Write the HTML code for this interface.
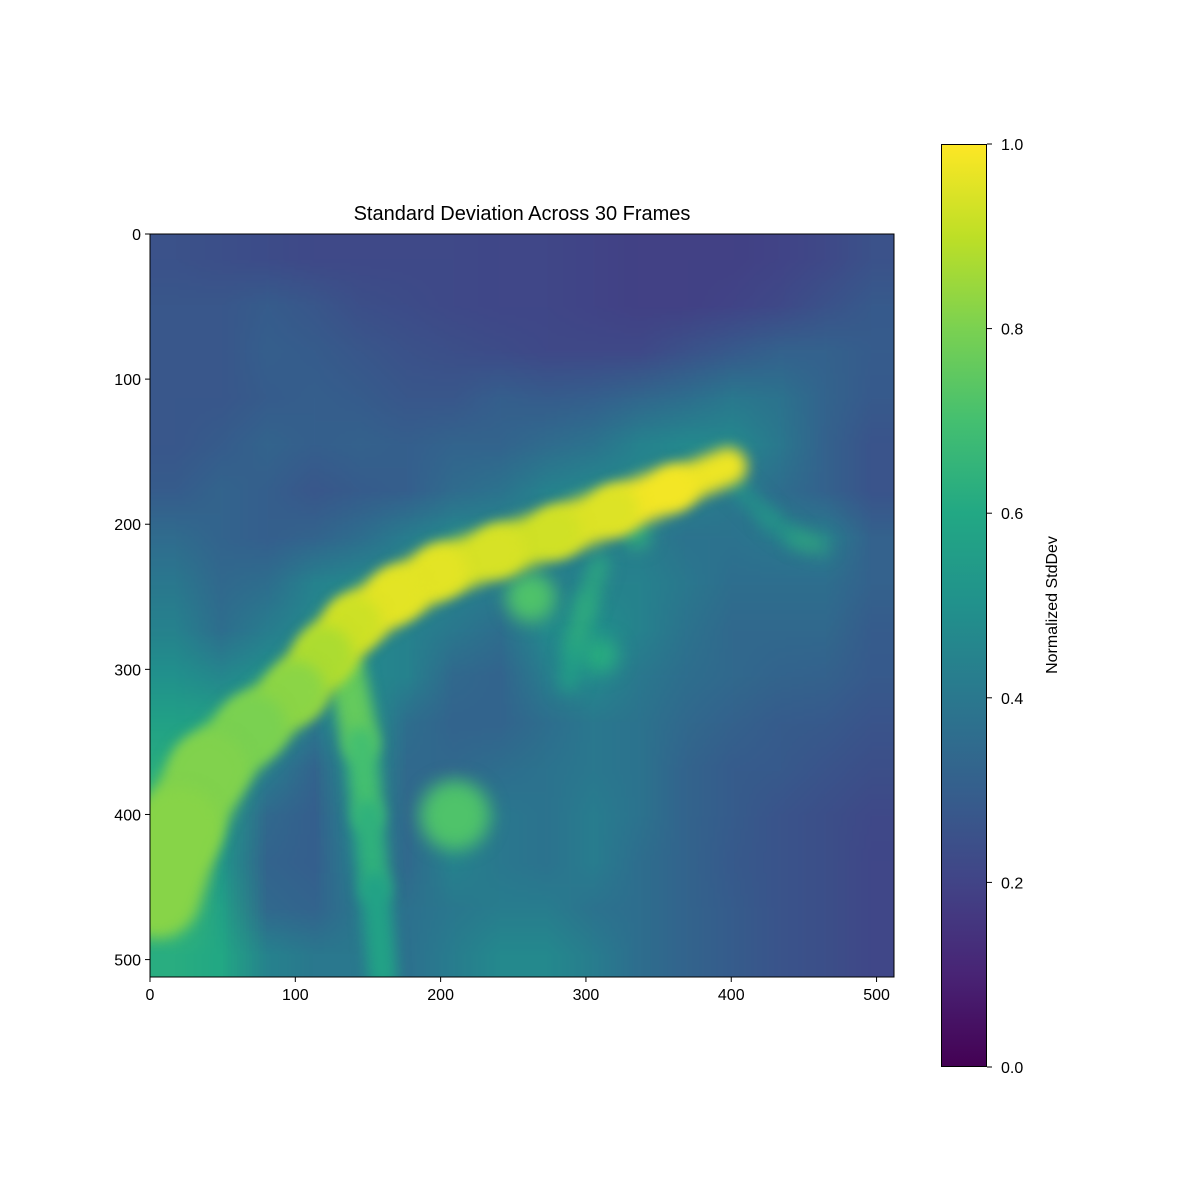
<!DOCTYPE html>
<html><head><meta charset="utf-8"><style>
body{margin:0;background:#fff;width:1200px;height:1200px;position:relative;overflow:hidden;font-family:"Liberation Sans","DejaVu Sans",sans-serif}
#heat{position:absolute;left:150px;top:234px;width:744px;height:743px}
#cbar{position:absolute;left:941px;top:144px;width:46px;height:923px;box-sizing:border-box;border:1px solid #000;
background:linear-gradient(to top,#440154 0%,#482475 10%,#414487 20%,#355f8d 30%,#2a788e 40%,#21918c 50%,#22a884 60%,#44bf70 70%,#7ad151 80%,#bddf26 90%,#fde725 100%)}
svg{position:absolute;left:0;top:0}
</style></head><body>
<canvas id="heat" width="744" height="743"></canvas>
<div id="cbar"></div>
<svg id="ax" width="1200" height="1200"></svg>
<script>
const rows = [
[.25,.24,.23,.22,.22,.22,.22,.21,.21,.20,.19,.19,.19,.20,.22,.25],
[.27,.27,.29,.27,.24,.23,.22,.21,.21,.20,.19,.19,.20,.22,.25,.28],
[.27,.27,.30,.29,.27,.25,.24,.23,.22,.22,.22,.25,.28,.31,.31,.29],
[.27,.27,.29,.30,.29,.27,.27,.30,.29,.30,.33,.36,.40,.38,.32,.28],
[.27,.29,.32,.30,.31,.30,.32,.32,.35,.38,.44,.47,.47,.40,.31,.26],
[.29,.32,.30,.27,.29,.30,.35,.38,.44,.47,.47,.44,.40,.36,.31,.26],
[.35,.32,.30,.32,.36,.42,.47,.47,.44,.42,.42,.38,.38,.40,.42,.31],
[.40,.34,.36,.44,.47,.47,.44,.42,.42,.44,.44,.40,.36,.36,.36,.31],
[.44,.36,.42,.47,.47,.44,.40,.36,.47,.50,.44,.38,.34,.34,.34,.29],
[.50,.46,.50,.47,.47,.44,.34,.32,.42,.47,.40,.36,.34,.32,.31,.28],
[.57,.57,.52,.40,.52,.36,.32,.32,.36,.40,.38,.34,.31,.29,.28,.26],
[.62,.57,.42,.32,.50,.34,.34,.36,.38,.40,.38,.32,.29,.28,.26,.24],
[.67,.54,.34,.30,.47,.34,.47,.40,.38,.42,.38,.32,.29,.26,.24,.22],
[.72,.52,.32,.30,.44,.34,.44,.40,.38,.42,.36,.32,.28,.26,.24,.21],
[.70,.57,.34,.32,.40,.37,.40,.42,.42,.38,.36,.32,.29,.26,.24,.21],
[.62,.60,.44,.40,.40,.37,.42,.47,.47,.42,.36,.32,.29,.26,.24,.21]];
const vesselX = [398,360,320,280,240,200,170,140,120,100,70,40,20,5];
const vesselY = [160,175,190,205,218,232,248,268,290,315,340,370,410,455];
const vesselW = [22,30,34,34,34,36,36,38,40,40,44,52,58,60];
const vesselV = [.95,1.0,.97,.93,.93,.95,.97,.95,.9,.85,.8,.8,.82,.82];
const branchX = [135,145,150,155,160];
const branchY = [300,350,400,450,510];
const branchW = [28,22,20,20,20];
const branchV = [.8,.72,.68,.6,.55];
const twigX = [310,300,292,288];
const twigY = [225,255,285,310];
const twigW = [10,10,10,10];
const twigV = [.62,.65,.65,.55];
const rightX = [400,425,445,462];
const rightY = [170,195,210,215];
const rightW = [8,8,8,8];
const rightV = [.55,.55,.6,.7];
const blobX = [210,262,310,335];
const blobY = [400,250,290,207];
const blobR = [24,17,12,9];
const blobV = [.72,.72,.62,.65];
const xTicks = [0,100,200,300,400,500];
const yTicks = [0,100,200,300,400,500];
const cbTicks = [0,0.2,0.4,0.6,0.8,1.0];
const V=[[68,1,84],[72,36,117],[65,68,135],[53,95,141],[42,120,142],[33,145,140],[34,168,132],[68,191,112],[122,209,81],[189,223,38],[253,231,37]];
function vir(t){t=Math.max(0,Math.min(1,t))*10;const i=Math.min(9,Math.floor(t)),f=t-i;
return V[i].map((c,k)=>Math.round(c+(V[i+1][k]-c)*f));}
const rgb=v=>'rgb('+vir(v).join(',')+')';
const cv=document.getElementById('heat'),ctx=cv.getContext('2d');
const small=document.createElement('canvas');small.width=16;small.height=16;
const sc=small.getContext('2d'),img=sc.createImageData(16,16);
rows.forEach((r,y)=>r.forEach((v,x)=>{const c=vir(v),o=(y*16+x)*4;img.data[o]=c[0];img.data[o+1]=c[1];img.data[o+2]=c[2];img.data[o+3]=255;}));
sc.putImageData(img,0,0);
ctx.imageSmoothingEnabled=true;ctx.drawImage(small,0,0,744,743);
const S=744/512;
ctx.lineCap='round';ctx.lineJoin='round';
function polyline(xs,ys,ws,vs){for(let i=0;i<xs.length-1;i++){ctx.strokeStyle=rgb((vs[i]+vs[i+1])/2);ctx.lineWidth=(ws[i]+ws[i+1])/2*S;
ctx.beginPath();ctx.moveTo(xs[i]*S,ys[i]*S);ctx.lineTo(xs[i+1]*S,ys[i+1]*S);ctx.stroke();}}
ctx.filter='blur(9px)';
blobX.forEach((x,i)=>{ctx.fillStyle=rgb(blobV[i]);ctx.beginPath();ctx.arc(x*S,blobY[i]*S,blobR[i]*S,0,7);ctx.fill();});
polyline(twigX,twigY,twigW,twigV);
polyline(rightX,rightY,rightW,rightV);
ctx.filter='blur(7px)';
polyline(branchX,branchY,branchW,branchV);
polyline(vesselX,vesselY,vesselW,vesselV);
ctx.filter='none';
const NS='http://www.w3.org/2000/svg',svg=document.getElementById('ax');
function el(t,a,txt){const e=document.createElementNS(NS,t);for(const k in a)e.setAttribute(k,a[k]);if(txt!==undefined)e.textContent=txt;svg.appendChild(e);return e;}
const X=v=>150+v*744/512, Y=v=>234+v*743/512, CB=v=>1067-v*923;
let r=el('rect',{x:150,y:234,width:744,height:743,fill:'none',stroke:'#000','stroke-width':1});


xTicks.forEach(v=>{el('line',{x1:X(v),x2:X(v),y1:977,y2:982,stroke:'#000'});
const t=el('text',{x:X(v),y:1000,'font-size':16,'text-anchor':'middle'},v);

});
yTicks.forEach(v=>{el('line',{x1:145,x2:150,y1:Y(v),y2:Y(v),stroke:'#000'});
const t=el('text',{x:141,y:Y(v)+6,'font-size':16,'text-anchor':'end'},v);

});
cbTicks.forEach(v=>{el('line',{x1:987,x2:992,y1:CB(v),y2:CB(v),stroke:'#000'});
const t=el('text',{x:1001,y:CB(v)+6,'font-size':16},v.toFixed(1));

});
const ti=el('text',{x:522,y:220,'font-size':20,'text-anchor':'middle'},'Standard Deviation Across 30 Frames');


const cl=el('text',{x:0,y:0,'font-size':16,'text-anchor':'middle',transform:'translate(1057,605) rotate(-90)'},'Normalized StdDev');


</script>
</body></html>
